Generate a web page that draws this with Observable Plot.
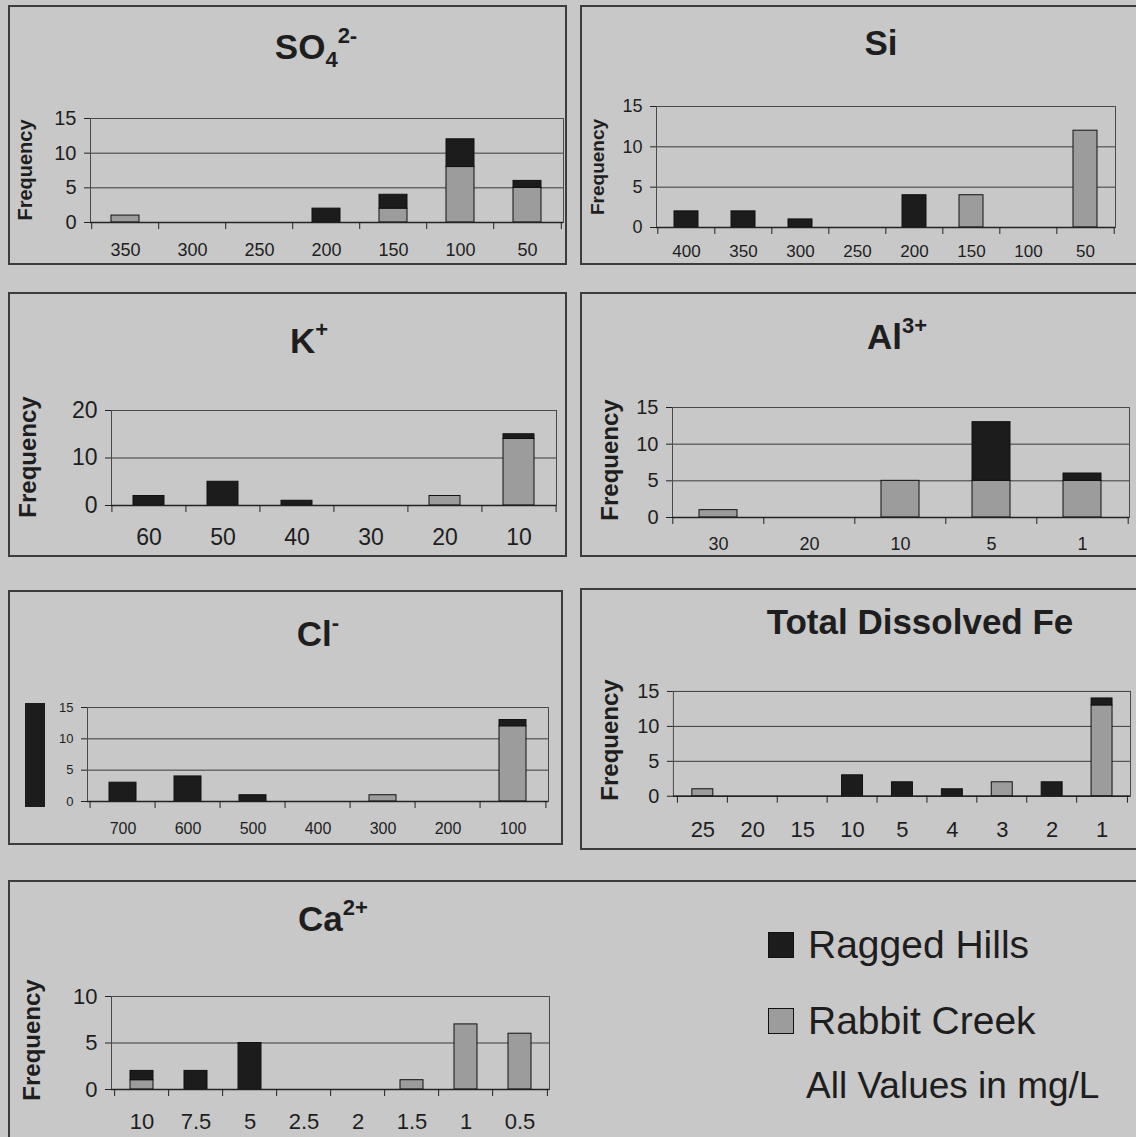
<!DOCTYPE html>
<html><head><meta charset="utf-8">
<script src="https://cdn.jsdelivr.net/npm/d3@7"></script>
<script src="https://cdn.jsdelivr.net/npm/@observablehq/plot@0.6"></script>
<style>
body{margin:0;background:#c8c8c8;font-family:"Liberation Sans",Arial,sans-serif;color:#1e1e1e;}
#page{position:relative;width:1136px;height:1137px;overflow:hidden;background:#c8c8c8;}
.box{position:absolute;border:2px solid #3c3c3c;box-sizing:border-box;}
.title{position:absolute;font-weight:bold;transform:translate(-50%,-50%);white-space:nowrap;font-size:35px;line-height:1;}
.title sub{font-size:22px;vertical-align:-8px;line-height:0;}
.title sup{font-size:22px;vertical-align:16px;line-height:0;}
.ylab{position:absolute;font-weight:bold;transform:translate(-50%,-50%) rotate(-90deg);white-space:nowrap;line-height:1;}
.plot{position:absolute;}
.leg{position:absolute;white-space:nowrap;line-height:1;}
.sw{position:absolute;width:26px;height:26px;border:1px solid #111;box-sizing:border-box;}
</style></head><body><div id="page"></div>
<script>
// ---------------- data (frequencies per concentration bin, mg/L) ----------------
const series = ["Ragged Hills", "Rabbit Creek"];

const so4Bins = ["350","300","250","200","150","100","50"];
const so4Ragged = [0,0,0,2,2,4,1];
const so4Rabbit = [1,0,0,0,2,8,5];

const siBins = ["400","350","300","250","200","150","100","50"];
const siRagged = [2,2,1,0,4,0,0,0];
const siRabbit = [0,0,0,0,0,4,0,12];

const kBins = ["60","50","40","30","20","10"];
const kRagged = [2,5,1,0,0,1];
const kRabbit = [0,0,0,0,2,14];

const alBins = ["30","20","10","5","1"];
const alRagged = [0,0,0,8,1];
const alRabbit = [1,0,5,5,5];

const clBins = ["700","600","500","400","300","200","100"];
const clRagged = [3,4,1,0,0,0,1];
const clRabbit = [0,0,0,0,1,0,12];

const feBins = ["25","20","15","10","5","4","3","2","1"];
const feRagged = [0,0,0,3,2,1,0,2,1];
const feRabbit = [1,0,0,0,0,0,2,0,13];

const caBins = ["10","7.5","5","2.5","2","1.5","1","0.5"];
const caRagged = [1,2,5,0,0,0,0,0];
const caRabbit = [1,0,0,0,0,1,7,6];

const so4YTicks = [0,5,10,15];
const siYTicks = [0,5,10,15];
const kYTicks = [0,10,20];
const alYTicks = [0,5,10,15];
const clYTicks = [0,5,10,15];
const feYTicks = [0,5,10,15];
const caYTicks = [0,5,10];

// ---------------- layout ----------------
const panels = [
  {title:"SO<sub>4</sub><sup>2-</sup>", tx:316, ty:46, box:[8,5,559,260], plot:[90,118,563,222],
   bins:so4Bins, rag:so4Ragged, rab:so4Rabbit, yt:so4YTicks, fx:18, fy:20, padX:21, ylab:[25,170,20]},
  {title:"Si", tx:881, ty:42, box:[580,5,560,260], plot:[656,106,1115,227],
   bins:siBins, rag:siRagged, rab:siRabbit, yt:siYTicks, fx:17, fy:18, padX:17, ylab:[597,167,19]},
  {title:"K<sup>+</sup>", tx:309, ty:340, box:[8,292,559,265], plot:[111,410,556,505],
   bins:kBins, rag:kRagged, rab:kRabbit, yt:kYTicks, fx:23, fy:23, padX:23, ylab:[28,457,24]},
  {title:"Al<sup>3+</sup>", tx:897, ty:336, box:[580,292,560,265], plot:[672,407,1129,517],
   bins:alBins, rag:alRagged, rab:alRabbit, yt:alYTicks, fx:18, fy:20, padX:20, ylab:[610,460,24]},
  {title:"Cl<sup>-</sup>", tx:318, ty:633, box:[8,590,555,255], plot:[87,707,548,801],
   bins:clBins, rag:clRagged, rab:clRabbit, yt:clYTicks, fx:16, fy:13, padX:21, ylab:null},
  {title:"Total Dissolved Fe", tx:920, ty:621, box:[580,588,560,262], plot:[673,691,1131,796],
   bins:feBins, rag:feRagged, rab:feRabbit, yt:feYTicks, fx:22, fy:20, padX:25, ylab:[610,740,24]},
  {title:"Ca<sup>2+</sup>", tx:333, ty:918, box:[8,880,1140,270], plot:[111,996,549,1089],
   bins:caBins, rag:caRagged, rab:caRabbit, yt:caYTicks, fx:22, fy:22, padX:24, ylab:[32,1040,24]}
];

const page = document.getElementById("page");
const colors = {domain: series, range: ["#1c1c1c", "#9c9c9c"]};

function el(cls, css, html) {
  const d = document.createElement("div");
  d.className = cls;
  Object.assign(d.style, css);
  if (html != null) d.innerHTML = html;
  page.appendChild(d);
  return d;
}

for (const p of panels) {
  el("box", {left:p.box[0]+"px", top:p.box[1]+"px", width:p.box[2]+"px", height:p.box[3]+"px"});
  el("title", {left:p.tx+"px", top:p.ty+"px"}, p.title);
  if (p.ylab) el("ylab", {left:p.ylab[0]+"px", top:p.ylab[1]+"px", fontSize:p.ylab[2]+"px"}, "Frequency");

  const rows = [];
  p.bins.forEach((b,i) => { if (p.rab[i] > 0) rows.push({bin:b, site:"Rabbit Creek", n:p.rab[i]}); });
  p.bins.forEach((b,i) => { if (p.rag[i] > 0) rows.push({bin:b, site:"Ragged Hills", n:p.rag[i]}); });

  const mL = 60, mR = 6, mT = 18, mB = 52;
  const W = p.plot[2]-p.plot[0], H = p.plot[3]-p.plot[1];
  const n = p.bins.length, step = W / n;
  const ymax = p.yt[p.yt.length-1];

  const chart = Plot.plot({
    width: W + mL + mR, height: H + mT + mB,
    marginLeft: mL, marginRight: mR, marginTop: mT, marginBottom: mB,
    style: {background:"transparent", fontFamily:"'Liberation Sans', Arial, sans-serif", color:"#1e1e1e", overflow:"visible"},
    x: {domain: p.bins, paddingInner: 0.58, paddingOuter: 0.29, axis: null},
    y: {domain: [0, ymax], axis: null},
    color: colors,
    marks: [
      Plot.gridY(p.yt, {stroke:"#3a3a3a", strokeOpacity:1, strokeWidth:1}),
      Plot.frame({stroke:"#4a4a4a", strokeWidth:1}),
      Plot.barY(rows, {x:"bin", y:"n", fill:"site", stroke:"#111", strokeWidth:1,
        order: ["Rabbit Creek","Ragged Hills"]}),
      Plot.ruleY([0], {stroke:"#222", strokeWidth:1.5}),
      Plot.axisY(p.yt, {tickSize:6, tickPadding:8, fontSize:p.fy, label:null, stroke:"#222"}),
      Plot.axisX(p.bins, {tickSize:7, tickFormat:()=>"", dx:-step/2, label:null, stroke:"#222"}),
      Plot.axisX([p.bins[n-1]], {tickSize:7, tickFormat:()=>"", dx:step/2, label:null, stroke:"#222"}),
      Plot.axisX(p.bins, {tickSize:0, tickPadding:p.padX, fontSize:p.fx, label:null})
    ]
  });
  const wrap = el("plot", {left:(p.plot[0]-mL)+"px", top:(p.plot[1]-mT)+"px"});
  wrap.appendChild(chart);
}

// Cl panel: black block where the axis title would be
el("", {position:"absolute", left:"25px", top:"703px", width:"20px", height:"104px", background:"#1c1c1c"});

// legend
el("sw", {left:"768px", top:"932px", background:"#1c1c1c"});
el("leg", {left:"808px", top:"925px", fontSize:"39px"}, series[0]);
el("sw", {left:"768px", top:"1008px", background:"#9c9c9c"});
el("leg", {left:"808px", top:"1001px", fontSize:"39px"}, series[1]);
el("leg", {left:"806px", top:"1067px", fontSize:"37px"}, "All Values in mg/L");
</script>
</body></html>
